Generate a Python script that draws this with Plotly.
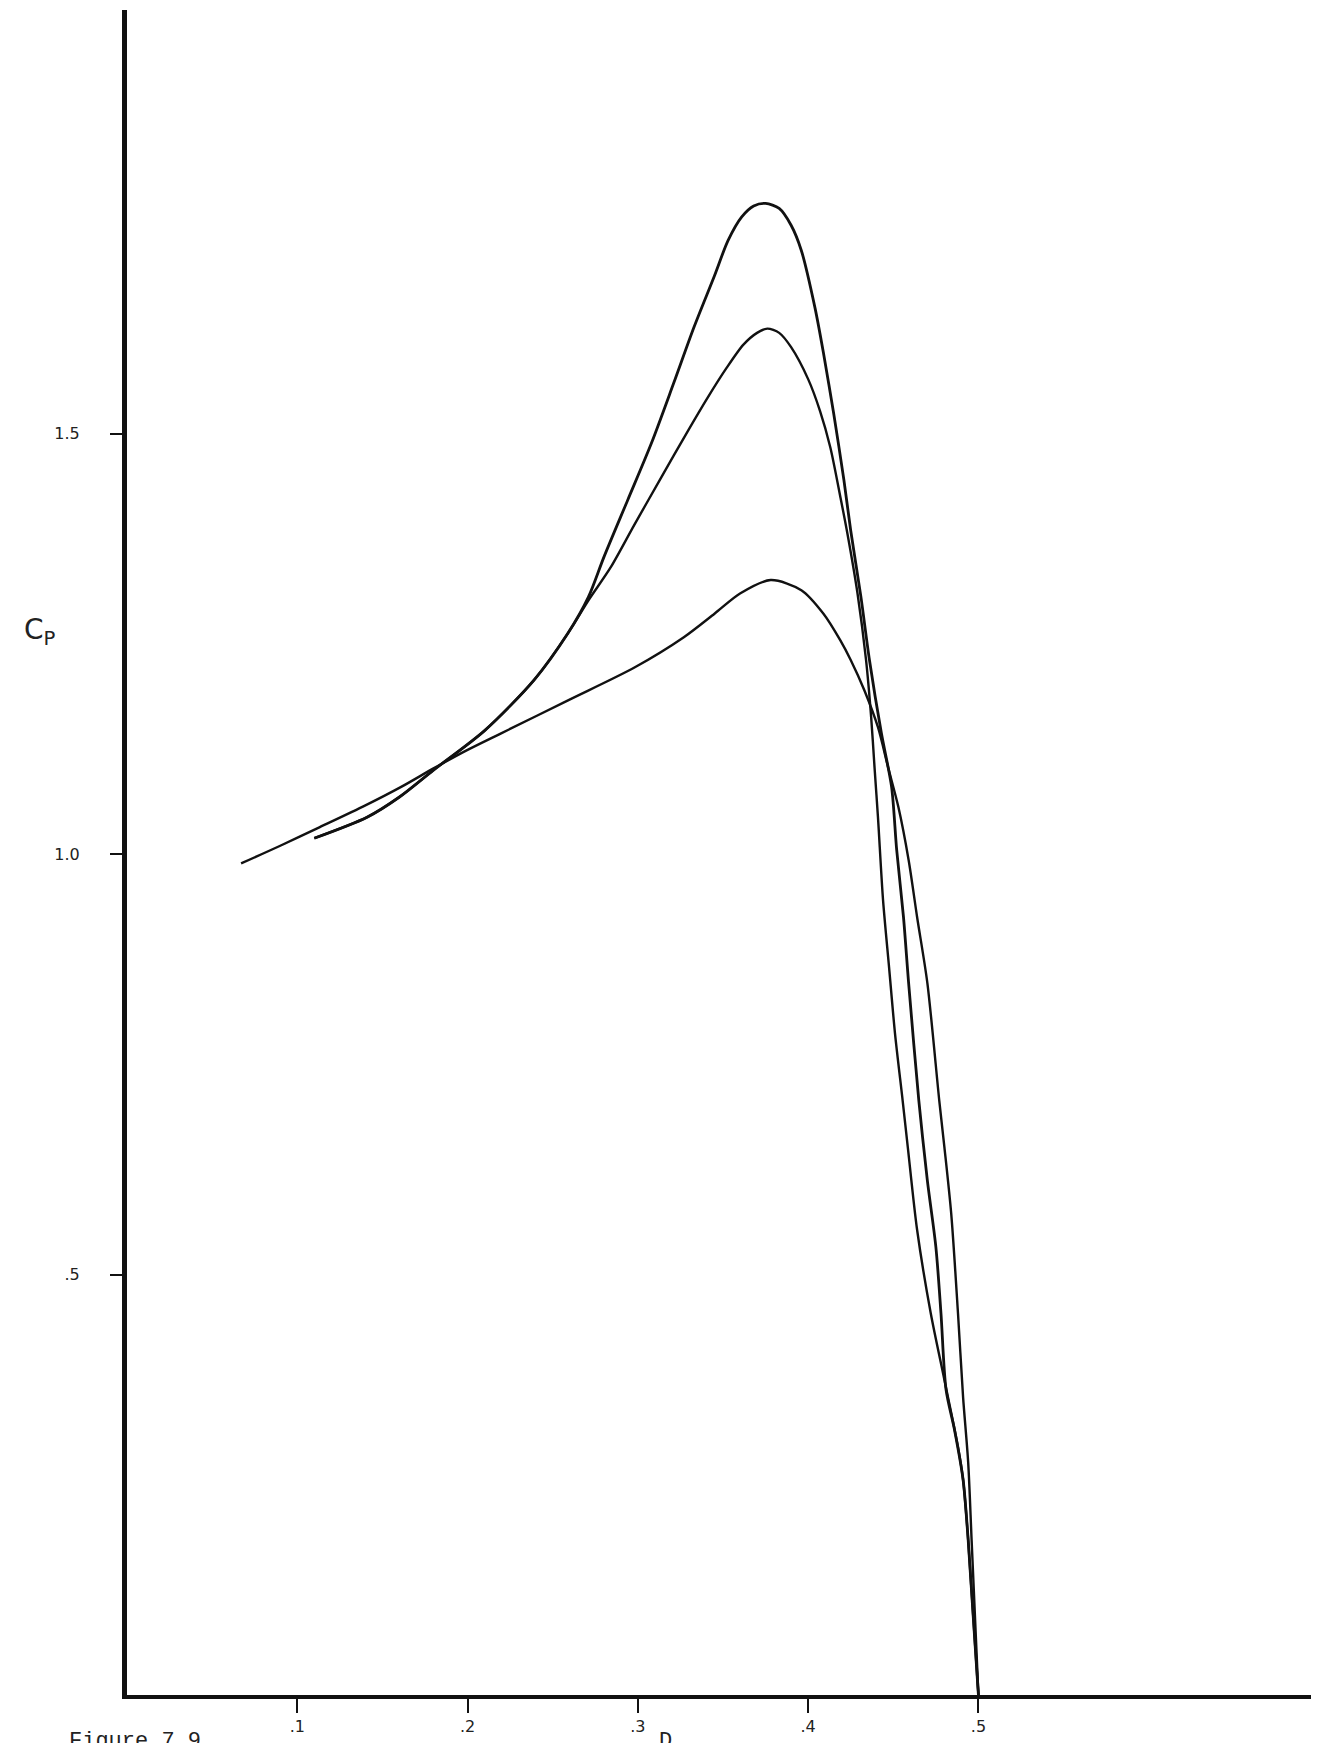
import plotly.graph_objects as go

# Curve A (lowest peak)
a_d = [0.067, 0.090, 0.112, 0.140, 0.161, 0.180, 0.200, 0.220, 0.259, 0.298, 0.327, 0.345,
       0.360, 0.378, 0.396, 0.409, 0.419, 0.425, 0.433, 0.441, 0.447, 0.453, 0.459, 0.464,
       0.470, 0.477, 0.480, 0.484, 0.488, 0.491, 0.494, 0.496, 0.500]
a_cp = [0.989, 1.010, 1.031, 1.058, 1.080, 1.102, 1.124, 1.144, 1.183, 1.222, 1.258, 1.286,
        1.310, 1.326, 1.314, 1.286, 1.254, 1.231, 1.195, 1.151, 1.103, 1.056, 0.993, 0.925,
        0.847, 0.707, 0.652, 0.573, 0.454, 0.354, 0.276, 0.184, 0.000]

# Curve B (middle peak)
b_d = [0.110, 0.141, 0.160, 0.180, 0.210, 0.239, 0.259, 0.271, 0.284, 0.298, 0.314, 0.329,
       0.341, 0.352, 0.362, 0.370, 0.376, 0.383, 0.390, 0.400, 0.407, 0.413, 0.419, 0.423,
       0.429, 0.434, 0.437, 0.439, 0.441, 0.444, 0.4475, 0.451, 0.4555, 0.4585, 0.464, 0.472,
       0.480, 0.488, 0.491, 0.494, 0.500]
b_cp = [1.019, 1.044, 1.068, 1.100, 1.147, 1.207, 1.263, 1.302, 1.341, 1.392, 1.449, 1.502,
        1.543, 1.578, 1.606, 1.620, 1.625, 1.620, 1.603, 1.565, 1.527, 1.484, 1.424, 1.382,
        1.310, 1.231, 1.163, 1.103, 1.044, 0.945, 0.866, 0.787, 0.707, 0.652, 0.553, 0.454,
        0.375, 0.295, 0.256, 0.184, 0.000]

# Curve C (highest peak)
c_d = [0.110, 0.141, 0.160, 0.180, 0.210, 0.239, 0.259, 0.271, 0.280, 0.294, 0.308, 0.321,
       0.333, 0.345, 0.353, 0.361, 0.368, 0.375, 0.383, 0.390, 0.396, 0.404, 0.409, 0.415,
       0.421, 0.425, 0.431, 0.436, 0.443, 0.449, 0.452, 0.456, 0.459, 0.465, 0.470, 0.475,
       0.478, 0.481, 0.486, 0.491, 0.494, 0.500]
c_cp = [1.019, 1.044, 1.068, 1.100, 1.147, 1.207, 1.263, 1.306, 1.353, 1.421, 1.489, 1.560,
        1.627, 1.688, 1.730, 1.758, 1.771, 1.774, 1.768, 1.748, 1.718, 1.650, 1.596, 1.524,
        1.445, 1.385, 1.306, 1.231, 1.144, 1.080, 1.005, 0.925, 0.847, 0.707, 0.612, 0.533,
        0.454, 0.363, 0.315, 0.256, 0.184, 0.000]

x_ticks = [0.1, 0.2, 0.3, 0.4, 0.5]
x_tick_labels = [".1", ".2", ".3", ".4", ".5"]
y_ticks = [0.5, 1.0, 1.5]
y_tick_labels = [".5", "1.0", "1.5"]

fig = go.Figure()
for xs, ys, w in [(a_d, a_cp, 2.4), (b_d, b_cp, 2.4), (c_d, c_cp, 2.8)]:
    fig.add_trace(go.Scatter(x=xs, y=ys, mode="lines",
                             line=dict(color="#111111", width=w, shape="spline", smoothing=0.8),
                             showlegend=False, hoverinfo="skip"))

# page body has an 8px margin, so the figure is sized/offset to fill the window
fig.update_layout(
    width=1311, height=1735,
    margin=dict(l=119, r=0, t=2, b=48),
    paper_bgcolor="white", plot_bgcolor="white",
    font=dict(family="DejaVu Sans", size=16, color="#222222"),
)
fig.update_xaxes(range=[0, 0.7], showgrid=False, zeroline=False,
                 showline=True, linecolor="#111111", linewidth=4,
                 tickmode="array", tickvals=x_ticks, ticktext=x_tick_labels,
                 ticks="outside", ticklen=14, tickwidth=2, tickcolor="#111111",
                 tickfont=dict(size=16))
fig.update_yaxes(range=[0, 2.004], showgrid=False, zeroline=False,
                 showline=True, linecolor="#111111", linewidth=5,
                 tickmode="array", tickvals=y_ticks, ticktext=y_tick_labels,
                 ticks="outside", ticklen=12, tickwidth=1.5, tickcolor="#111111",
                 ticklabelstandoff=27, tickfont=dict(size=16))

fig.add_annotation(text="C<sub>P</sub>", xref="paper", yref="y", x=-0.073, y=1.265,
                   xanchor="center", yanchor="middle", showarrow=False,
                   font=dict(family="DejaVu Sans", size=28, color="#222222"))
fig.add_annotation(text="D", xref="x", yref="paper", x=0.316, y=-0.019,
                   xanchor="center", yanchor="top", showarrow=False,
                   font=dict(family="Liberation Mono", size=22, color="#222222"))
fig.add_annotation(text="Figure 7.9", xref="paper", yref="paper", x=-0.050, y=-0.019,
                   xanchor="left", yanchor="top", showarrow=False,
                   font=dict(family="Liberation Mono", size=22, color="#222222"))

fig.write_html("out.html")
